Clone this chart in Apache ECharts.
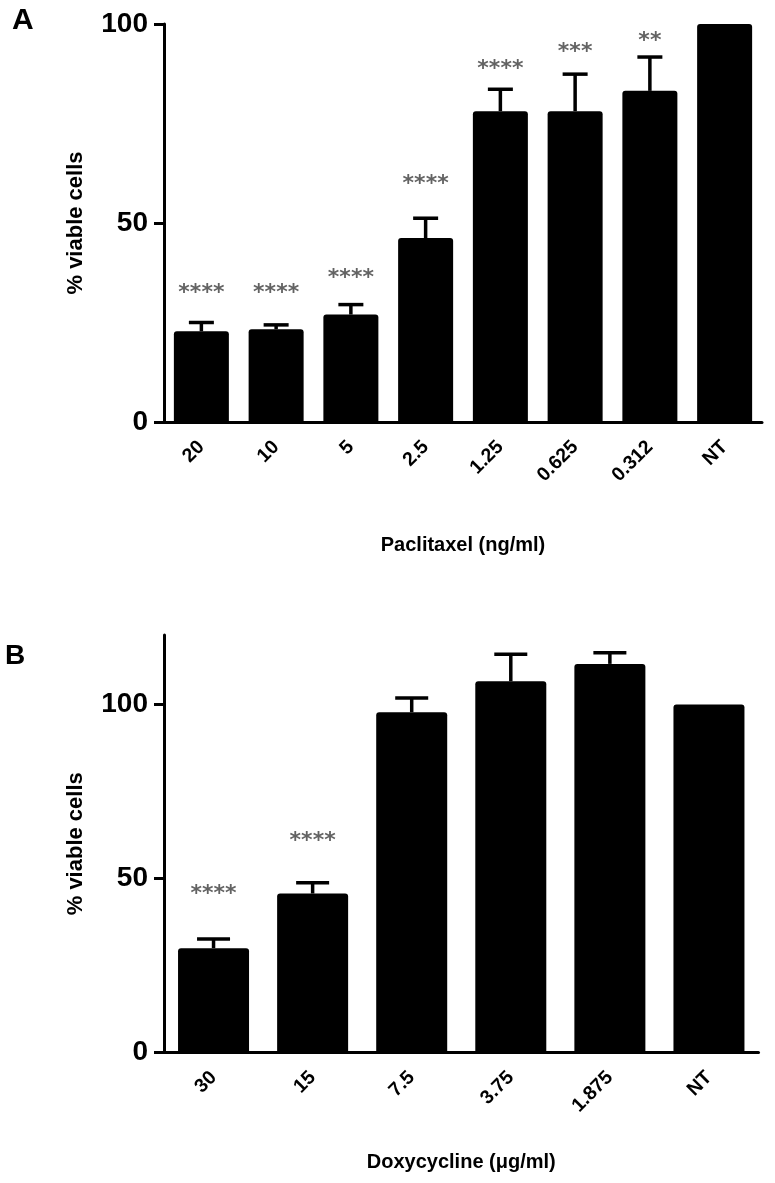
<!DOCTYPE html>
<html><head><meta charset="utf-8">
<script src="https://cdn.jsdelivr.net/npm/echarts@6/dist/echarts.min.js"></script>
<style>html,body{margin:0;padding:0;background:#fff}#c{width:775px;height:1183px}</style>
</head><body><div id="c"></div>
<script>
// ---- Panel A: Paclitaxel ----
const catsA = ['20', '10', '5', '2.5', '1.25', '0.625', '0.312', 'NT'];
const valsA = [22.8, 23.3, 27.0, 46.2, 78.1, 78.1, 83.2, 100];
const errA = [2.2, 1.1, 2.5, 5.0, 5.5, 9.3, 8.5, 0];
const starsA = ['****', '****', '****', '****', '****', '***', '**', ''];
const starYA = [32.4, 32.4, 36.1, 59.8, 88.6, 93.0, 95.7, null];
const ticksA = [0, 50, 100];

// ---- Panel B: Doxycycline ----
const catsB = ['30', '15', '7.5', '3.75', '1.875', 'NT'];
const valsB = [30.0, 45.7, 97.8, 106.7, 111.7, 100];
const errB = [2.6, 3.1, 4.1, 7.8, 3.2, 0];
const starsB = ['****', '****', '', '', '', ''];
const starYB = [45.4, 60.6, null, null, null, null];
const ticksB = [0, 50, 100];

const FONT = "'Liberation Sans', Arial, sans-serif";

function errRender(halfW) {
  return function (params, api) {
    const i = api.value(0), v = api.value(1), e = api.value(2);
    if (!e) return null;
    const p0 = api.coord([i, v]);
    const p1 = api.coord([i, v + e]);
    const style = { stroke: '#000', lineWidth: 3.5 };
    return {
      type: 'group', children: [
        { type: 'line', shape: { x1: p0[0], y1: p0[1], x2: p1[0], y2: p1[1] }, style: style },
        { type: 'line', shape: { x1: p1[0] - halfW, y1: p1[1], x2: p1[0] + halfW, y2: p1[1] }, style: style }
      ]
    };
  };
}

function xAxisCfg(idx, cats, name, gap) {
  return {
    type: 'category', gridIndex: idx, data: cats,
    name: name, nameLocation: 'middle', nameGap: gap,
    nameTextStyle: { fontFamily: FONT, fontWeight: 'bold', fontSize: 20, color: '#000' },
    axisLine: { lineStyle: { color: '#000', width: 3 } },
    axisTick: { alignWithLabel: true, length: 10, lineStyle: { color: '#000', width: 3 } },
    axisLabel: { rotate: 45, margin: 22, fontFamily: FONT, fontWeight: 'bold', fontSize: 19.5, color: '#000', interval: 0 },
    splitLine: { show: false }
  };
}

function yAxisCfg(idx, max, ticks, gap) {
  return {
    type: 'value', gridIndex: idx, min: 0, max: max,
    name: '% viable cells', nameLocation: 'middle', nameGap: gap,
    nameTextStyle: { fontFamily: FONT, fontWeight: 'bold', fontSize: 22, color: '#000' },
    axisLine: { show: true, lineStyle: { color: '#000', width: 3 } },
    axisTick: { show: true, length: 10, customValues: ticks, lineStyle: { color: '#000', width: 3 } },
    axisLabel: { customValues: ticks, margin: 16, fontFamily: FONT, fontWeight: 'bold', fontSize: 28, color: '#000' },
    splitLine: { show: false }
  };
}

function starLabel(texts) {
  return {
    show: true, position: 'inside',
    formatter: function (p) { return texts[p.dataIndex]; },
    fontFamily: "'DejaVu Sans', sans-serif", fontWeight: 'bold', fontSize: 22, color: '#3c3c3c'
  };
}

const chart = echarts.init(document.getElementById('c'), null, { renderer: 'canvas' });
chart.setOption({
  backgroundColor: '#ffffff',
  animation: false,
  grid: [
    { left: 164, top: 24, width: 598, height: 398 },
    { left: 164, top: 635, width: 594.5, height: 417.5 }
  ],
  xAxis: [
    xAxisCfg(0, catsA, 'Paclitaxel (ng/ml)', 113),
    xAxisCfg(1, catsB, 'Doxycycline (\u03bcg/ml)', 100)
  ],
  yAxis: [
    yAxisCfg(0, 100, ticksA, 77),
    yAxisCfg(1, 120, ticksB, 77)
  ],
  graphic: [
    { type: 'text', left: 12, top: 6, style: { text: 'A', font: 'bold 30px ' + FONT, fill: '#000' } },
    { type: 'text', left: 5, top: 642, style: { text: 'B', font: 'bold 28px ' + FONT, fill: '#000' } }
  ],
  series: [
    {
      type: 'bar', xAxisIndex: 0, yAxisIndex: 0, data: valsA, barWidth: 55,
      itemStyle: { color: '#000', borderRadius: [3, 3, 0, 0] }
    },
    {
      type: 'custom', xAxisIndex: 0, yAxisIndex: 0, renderItem: errRender(12.5),
      encode: { x: 0, y: 1 },
      data: catsA.map(function (c, i) { return [i, valsA[i], errA[i]]; }), z: 3
    },
    {
      type: 'scatter', xAxisIndex: 0, yAxisIndex: 0, symbolSize: 0,
      data: catsA.map(function (c, i) { return [i, starYA[i]]; }),
      label: starLabel(starsA)
    },
    {
      type: 'bar', xAxisIndex: 1, yAxisIndex: 1, data: valsB, barWidth: 71,
      itemStyle: { color: '#000', borderRadius: [3, 3, 0, 0] }
    },
    {
      type: 'custom', xAxisIndex: 1, yAxisIndex: 1, renderItem: errRender(16.5),
      encode: { x: 0, y: 1 },
      data: catsB.map(function (c, i) { return [i, valsB[i], errB[i]]; }), z: 3
    },
    {
      type: 'scatter', xAxisIndex: 1, yAxisIndex: 1, symbolSize: 0,
      data: catsB.map(function (c, i) { return [i, starYB[i]]; }),
      label: starLabel(starsB)
    }
  ]
});
</script>
</body></html>
